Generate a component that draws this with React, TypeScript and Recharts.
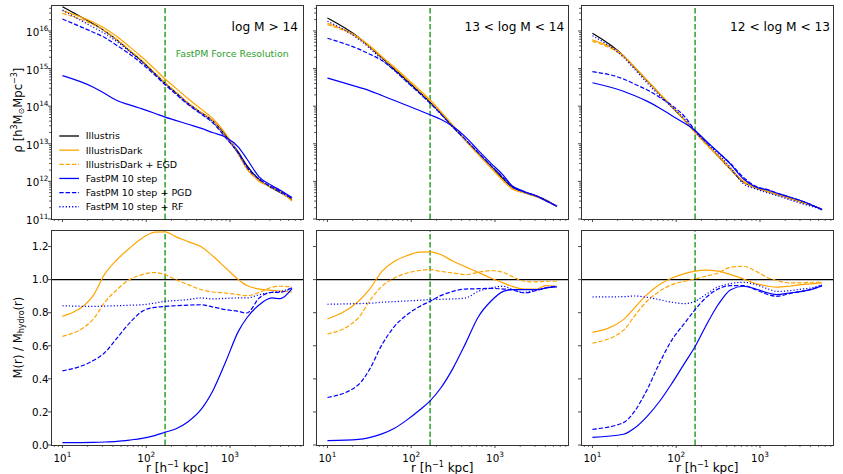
import React from "react";
import { LineChart, Line, XAxis, YAxis, ReferenceLine, Legend } from "recharts";

const FONT = "'DejaVu Sans', sans-serif";
const AXIS = "#333";
const GREEN = "#2ca02c";

// radial bins, h^-1 kpc
const radius = [10, 23.4, 31.6, 44.7, 63.1, 89.1, 126, 168, 224, 316, 447, 631, 891, 1259, 1585, 2239, 3162, 3981, 5500];
const forceResolution = 168;

// density profiles, log M > 14
const rhoIllustris14 = [4.4e16, 1.53e16, 1.02e16, 5.8e15, 3.0e15, 1.57e15, 7.5e14, 4.1e14, 2.35e14, 1.2e14, 6.9e13, 4.0e13, 1.66e13, 6.0e12, 2.66e12, 1.11e12, 6.7e11, 5.1e11, 3.3e11];
const rhoDark14 = [3.47e16, 1.7e16, 1.2e16, 7.1e15, 3.84e15, 2.0e15, 9.8e14, 5.3e14, 3.07e14, 1.57e14, 8.5e13, 4.6e13, 1.84e13, 5.4e12, 2.17e12, 1.0e12, 7.1e11, 5.5e11, 3.0e11];
const rhoEgd14 = [2.94e16, 1.47e16, 1.02e16, 5.9e15, 3.13e15, 1.63e15, 7.8e14, 4.2e14, 2.4e14, 1.22e14, 6.9e13, 4.0e13, 1.57e13, 5.2e12, 2.17e12, 1.06e12, 6.8e11, 5.2e11, 3.1e11];
const rhoFastpm14 = [6.5e14, 3.2e14, 2.2e14, 1.41e14, 1.08e14, 8.5e13, 6.5e13, 5.1e13, 4.2e13, 3.3e13, 2.6e13, 1.96e13, 1.5e13, 8.2e12, 4.0e12, 1.3e12, 7.8e11, 5.8e11, 3.7e11];
const rhoPgd14 = [2.08e16, 9.2e15, 6.8e15, 4.1e15, 2.45e15, 1.33e15, 6.8e14, 3.7e14, 2.12e14, 1.11e14, 6.3e13, 3.5e13, 1.44e13, 5.6e12, 2.4e12, 1.13e12, 7.1e11, 5.4e11, 3.5e11];
const rhoRf14 = [3.6e16, 1.25e16, 8.7e15, 5.2e15, 2.83e15, 1.47e15, 7.2e14, 3.9e14, 2.2e14, 1.15e14, 6.5e13, 3.7e13, 1.5e13, 5.6e12, 2.5e12, 1.18e12, 6.8e11, 5.2e11, 3.5e11];

// 13 < log M < 14
const rhoIllustris13 = [2.21e16, 6.8e15, 3.84e15, 1.92e15, 9.6e14, 4.8e14, 2.35e14, 1.28e14, 6.5e13, 2.77e13, 1.22e13, 5.5e12, 2.55e12, 1.15e12, 7.1e11, 5.2e11, 4.0e11, 3.26e11, 2.17e11];
const rhoDark13 = [1.6e16, 6.8e15, 4.1e15, 2.08e15, 1.08e15, 5.4e14, 2.72e14, 1.47e14, 7.4e13, 3.07e13, 1.22e13, 5.2e12, 2.3e12, 1.02e12, 6.4e11, 4.9e11, 3.84e11, 3.13e11, 2.17e11];
const rhoEgd13 = [1.47e16, 6.4e15, 3.84e15, 2.0e15, 1.02e15, 5.1e14, 2.5e14, 1.36e14, 6.9e13, 2.94e13, 1.22e13, 5.2e12, 2.4e12, 1.06e12, 6.7e11, 5.0e11, 3.9e11, 3.13e11, 2.17e11];
const rhoFastpm13 = [5.6e14, 3.2e14, 2.6e14, 1.92e14, 1.41e14, 1.04e14, 7.7e13, 5.9e13, 4.5e13, 2.88e13, 1.5e13, 6.7e12, 3.07e12, 1.44e12, 7.8e11, 5.4e11, 4.1e11, 3.13e11, 2.17e11];
const rhoPgd13 = [6.4e15, 3.33e15, 2.45e15, 1.63e15, 8.9e14, 4.4e14, 2.2e14, 1.2e14, 6.3e13, 2.77e13, 1.28e13, 5.8e12, 2.66e12, 1.25e12, 7.4e11, 5.2e11, 4.0e11, 3.13e11, 2.17e11];
const rhoRf13 = [1.81e16, 6.1e15, 3.54e15, 1.73e15, 8.9e14, 4.4e14, 2.2e14, 1.2e14, 6.3e13, 2.77e13, 1.28e13, 5.8e12, 2.66e12, 1.25e12, 7.4e11, 5.2e11, 4.0e11, 3.13e11, 2.17e11];

// 12 < log M < 13
const rhoIllustris12 = [8.7e15, 2.21e15, 1.08e15, 4.8e14, 2.12e14, 9.4e13, 4.2e13, 2.04e13, 1.06e13, 4.7e12, 2.08e12, 9.6e11, 6.8e11, 5.3e11, 4.5e11, 3.54e11, 2.77e11, 2.35e11, 1.84e11];
const rhoDark12 = [5.8e15, 2.21e15, 1.13e15, 5.0e14, 2.2e14, 9.8e13, 4.3e13, 2.04e13, 1.04e13, 4.9e12, 2.21e12, 1.02e12, 6.8e11, 5.4e11, 4.6e11, 3.6e11, 2.83e11, 2.4e11, 1.84e11];
const rhoEgd12 = [5.3e15, 2.08e15, 1.08e15, 4.8e14, 2.12e14, 9.4e13, 4.2e13, 1.96e13, 1.0e13, 4.6e12, 2.08e12, 9.6e11, 6.7e11, 5.3e11, 4.5e11, 3.54e11, 2.77e11, 2.35e11, 1.84e11];
const rhoFastpm12 = [4.2e14, 2.5e14, 1.92e14, 1.36e14, 9.0e13, 5.6e13, 3.5e13, 2.26e13, 1.22e13, 6.0e12, 2.83e12, 1.18e12, 7.1e11, 5.8e11, 4.9e11, 3.84e11, 3.0e11, 2.45e11, 1.77e11];
const rhoPgd12 = [8.3e14, 5.3e14, 3.9e14, 2.72e14, 1.73e14, 1.04e14, 5.3e13, 2.26e13, 1.18e13, 6.0e12, 2.94e12, 1.3e12, 7.4e11, 6.0e11, 4.9e11, 3.84e11, 3.0e11, 2.45e11, 1.77e11];
const rhoRf12 = [7.5e15, 2.0e15, 9.8e14, 4.2e14, 1.92e14, 9.4e13, 4.6e13, 2.12e13, 1.11e13, 5.4e12, 2.3e12, 8.7e11, 6.3e11, 4.9e11, 4.2e11, 3.26e11, 2.55e11, 2.21e11, 1.77e11];

// enclosed mass ratio M(r) / M_hydro(r)
const massDark14 = [0.778, 0.905, 1.03, 1.12, 1.19, 1.25, 1.287, 1.289, 1.26, 1.23, 1.2, 1.14, 1.07, 1.0, 0.964, 0.943, 0.935, 0.931, 0.925];
const massEgd14 = [0.657, 0.762, 0.859, 0.939, 1.0, 1.03, 1.043, 1.03, 1.0, 0.97, 0.94, 0.925, 0.919, 0.909, 0.903, 0.923, 0.954, 0.96, 0.956];
const massFastpm14 = [0.014, 0.016, 0.018, 0.022, 0.03, 0.04, 0.057, 0.077, 0.097, 0.141, 0.212, 0.333, 0.505, 0.687, 0.768, 0.848, 0.889, 0.885, 0.945];
const massPgd14 = [0.448, 0.511, 0.556, 0.646, 0.737, 0.808, 0.832, 0.838, 0.842, 0.846, 0.848, 0.834, 0.818, 0.808, 0.798, 0.889, 0.923, 0.923, 0.954];
const massRf14 = [0.842, 0.838, 0.84, 0.842, 0.845, 0.848, 0.858, 0.869, 0.873, 0.879, 0.889, 0.883, 0.887, 0.889, 0.889, 0.909, 0.923, 0.929, 0.949];

const massDark13 = [0.762, 0.869, 0.939, 1.05, 1.111, 1.145, 1.166, 1.168, 1.152, 1.111, 1.077, 1.044, 1.01, 0.98, 0.96, 0.943, 0.943, 0.964, 0.96];
const massEgd13 = [0.671, 0.768, 0.869, 0.96, 1.01, 1.04, 1.055, 1.061, 1.05, 1.04, 1.03, 1.044, 1.055, 1.044, 1.02, 0.99, 0.986, 0.99, 0.99];
const massFastpm13 = [0.026, 0.034, 0.045, 0.067, 0.101, 0.152, 0.212, 0.267, 0.343, 0.465, 0.616, 0.774, 0.869, 0.929, 0.939, 0.939, 0.939, 0.949, 0.956];
const massPgd13 = [0.287, 0.364, 0.455, 0.606, 0.717, 0.788, 0.838, 0.869, 0.903, 0.929, 0.943, 0.945, 0.947, 0.943, 0.939, 0.919, 0.935, 0.949, 0.96];
const massRf13 = [0.851, 0.855, 0.857, 0.863, 0.867, 0.871, 0.875, 0.879, 0.881, 0.883, 0.889, 0.929, 0.949, 0.96, 0.943, 0.923, 0.939, 0.949, 0.96];

const massDark12 = [0.681, 0.758, 0.828, 0.909, 0.97, 1.01, 1.036, 1.051, 1.057, 1.051, 1.03, 1.004, 0.976, 0.96, 0.954, 0.96, 0.97, 0.974, 0.98];
const massEgd12 = [0.616, 0.693, 0.778, 0.869, 0.929, 0.97, 0.99, 1.004, 1.02, 1.04, 1.075, 1.081, 1.051, 1.01, 0.994, 0.98, 0.98, 0.984, 0.984];
const massFastpm12 = [0.046, 0.065, 0.101, 0.172, 0.263, 0.374, 0.495, 0.596, 0.717, 0.848, 0.939, 0.96, 0.943, 0.919, 0.909, 0.919, 0.929, 0.939, 0.964];
const massPgd12 = [0.095, 0.135, 0.202, 0.333, 0.495, 0.636, 0.737, 0.818, 0.889, 0.943, 0.964, 0.964, 0.939, 0.909, 0.899, 0.915, 0.929, 0.939, 0.964];
const massRf12 = [0.895, 0.897, 0.901, 0.893, 0.879, 0.863, 0.855, 0.869, 0.909, 0.956, 0.976, 0.984, 0.97, 0.943, 0.929, 0.933, 0.943, 0.949, 0.97];

const titles = ["log M > 14", "13 < log M < 14", "12 < log M < 13"];

const xTicks = [8, 9, 10, 20, 30, 40, 50, 60, 70, 80, 90, 100, 200, 300, 400, 500, 600, 700, 800, 900, 1000, 2000, 3000, 4000, 5000, 6000, 7000];
const rhoTicks: number[] = [];
for (let e = 11; e <= 16; e++) {
  for (let m = 1; m <= 9; m++) {
    if (m * Math.pow(10, e) <= 4.9e16) rhoTicks.push(m * Math.pow(10, e));
  }
}
const ratioTicks = [0, 0.2, 0.4, 0.6, 0.8, 1.0, 1.2];

const SERIES = [
  { key: "il", name: "Illustris", color: "#000000", dash: undefined as string | undefined },
  { key: "ild", name: "IllustrisDark", color: "#ffa500", dash: undefined },
  { key: "egd", name: "IllustrisDark + EGD", color: "#ffa500", dash: "4.4 1.9" },
  { key: "fp", name: "FastPM 10 step", color: "#0000ff", dash: undefined },
  { key: "pgd", name: "FastPM 10 step + PGD", color: "#0000ff", dash: "4.4 1.9" },
  { key: "rf", name: "FastPM 10 step + RF", color: "#0000ff", dash: "1.2 2" },
];

function buildRows(cols: Record<string, number[]>) {
  return radius.map((r, i) => {
    const row: Record<string, number> = { r };
    Object.keys(cols).forEach((k) => (row[k] = cols[k][i]));
    return row;
  });
}

const densityRows = [
  buildRows({ il: rhoIllustris14, ild: rhoDark14, egd: rhoEgd14, fp: rhoFastpm14, pgd: rhoPgd14, rf: rhoRf14 }),
  buildRows({ il: rhoIllustris13, ild: rhoDark13, egd: rhoEgd13, fp: rhoFastpm13, pgd: rhoPgd13, rf: rhoRf13 }),
  buildRows({ il: rhoIllustris12, ild: rhoDark12, egd: rhoEgd12, fp: rhoFastpm12, pgd: rhoPgd12, rf: rhoRf12 }),
];
const massRows = [
  buildRows({ ild: massDark14, egd: massEgd14, fp: massFastpm14, pgd: massPgd14, rf: massRf14 }),
  buildRows({ ild: massDark13, egd: massEgd13, fp: massFastpm13, pgd: massPgd13, rf: massRf13 }),
  buildRows({ ild: massDark12, egd: massEgd12, fp: massFastpm12, pgd: massPgd12, rf: massRf12 }),
];

// layout
const PW = 252.5;
const ML = 50, MR = 6, MT = 5, MB = 30;
const COLS = [51, 316, 581];
const ROWS = { top: { y: 5, h: 214 }, bottom: { y: 230, h: 215 } };
const TICK_FS = 10.3;

const isPow10 = (v: number) => {
  const e = Math.log10(v);
  return Math.abs(e - Math.round(e)) < 1e-9;
};

function XTick(props: any) {
  const { x, y, payload, showLabel } = props;
  const v = payload.value;
  const major = isPow10(v);
  const len = major ? 3 : 1.8;
  return (
    <g>
      <line x1={x} x2={x} y1={y} y2={y + len} stroke={AXIS} strokeWidth={0.9} />
      {showLabel && major && (
        <text x={x} y={y + 17} textAnchor="middle" fontSize={TICK_FS} fontFamily={FONT} fill="#000">
          10<tspan dy={-5} fontSize={7.3}>{Math.round(Math.log10(v))}</tspan>
        </text>
      )}
    </g>
  );
}

function LogYTick(props: any) {
  const { x, y, payload, showLabel } = props;
  const v = payload.value;
  const major = isPow10(v);
  const len = major ? 3 : 1.8;
  return (
    <g>
      <line x1={x - len} x2={x} y1={y} y2={y} stroke={AXIS} strokeWidth={0.9} />
      {showLabel && major && (
        <text x={x - 2.5} y={y + 5} textAnchor="end" fontSize={TICK_FS} fontFamily={FONT} fill="#000">
          10<tspan dy={-5} fontSize={7.3}>{Math.round(Math.log10(v))}</tspan>
        </text>
      )}
    </g>
  );
}

function LinYTick(props: any) {
  const { x, y, payload, showLabel } = props;
  return (
    <g>
      <line x1={x - 3} x2={x} y1={y} y2={y} stroke={AXIS} strokeWidth={0.9} />
      {showLabel && (
        <text x={x - 2.5} y={y + 3.8} textAnchor="end" fontSize={TICK_FS} fontFamily={FONT} fill="#000">
          {payload.value.toFixed(1)}
        </text>
      )}
    </g>
  );
}

const LegendBox = () => (
  <svg width={200} height={92} style={{ overflow: "visible" }}>
    {SERIES.map((s, i) => {
      const cy = 8 + i * 14.15;
      return (
        <g key={s.key}>
          <line x1={3.3} x2={23} y1={cy} y2={cy} stroke={s.color} strokeWidth={1.3} strokeDasharray={s.dash} />
          <text x={29.7} y={cy + 3.4} fontSize={9.5} fontFamily={FONT} fill="#000">
            {s.name}
          </text>
        </g>
      );
    })}
  </svg>
);

function Panel({ col, row }: { col: number; row: "top" | "bottom" }) {
  const isTop = row === "top";
  const r = ROWS[row];
  const data = isTop ? densityRows[col] : massRows[col];
  const series = isTop ? SERIES : SERIES.filter((s) => s.key !== "il");
  const yLabels = col === 0;
  return (
    <div style={{ position: "absolute", left: COLS[col] - ML, top: r.y - MT }}>
      <LineChart
        width={ML + PW + MR}
        height={MT + r.h + MB}
        data={data}
        margin={{ top: MT, right: MR, left: 0, bottom: 0 }}
      >
        <XAxis
          dataKey="r"
          type="number"
          scale="log"
          domain={[7.3, 7540]}
          allowDataOverflow
          ticks={xTicks}
          interval={0}
          height={MB}
          tickLine={false}
          axisLine={false}
          tickSize={0}
          tickMargin={0}
          tick={(p: any) => <XTick {...p} showLabel={!isTop} />}
        />
        <YAxis
          type="number"
          scale={isTop ? "log" : "linear"}
          domain={isTop ? [1e11, 4.9e16] : [0, 1.3]}
          allowDataOverflow
          ticks={isTop ? rhoTicks : ratioTicks}
          interval={0}
          width={ML}
          tickLine={false}
          axisLine={false}
          tickSize={0}
          tickMargin={0}
          tick={(p: any) =>
            isTop ? <LogYTick {...p} showLabel={yLabels} /> : <LinYTick {...p} showLabel={yLabels} />
          }
        />
        {!isTop && <ReferenceLine y={1} stroke="#000" strokeWidth={1.3} />}
        <ReferenceLine x={forceResolution} stroke={GREEN} strokeWidth={1.5} strokeDasharray="5.5 2.4" />
        {series.map((s) => (
          <Line
            key={s.key}
            dataKey={s.key}
            name={s.name}
            type="monotone"
            stroke={s.color}
            strokeWidth={1.2}
            strokeDasharray={s.dash}
            dot={false}
            activeDot={false}
            isAnimationActive={false}
          />
        ))}
        {isTop && col === 0 && (
          <Legend
            layout="vertical"
            align="center"
            verticalAlign="middle"
            wrapperStyle={{ left: 55, top: 128, width: 200, height: 92 }}
            content={() => <LegendBox />}
          />
        )}
      </LineChart>
      <div
        style={{
          position: "absolute",
          left: ML - 0.5,
          top: MT - 0.5,
          width: PW + 1,
          height: r.h + 1,
          boxSizing: "border-box",
          border: `1px solid ${AXIS}`,
          pointerEvents: "none",
        }}
      />
    </div>
  );
}

export default function App() {
  return (
    <div style={{ position: "fixed", left: 0, top: 0, width: 843, height: 474, background: "#fff", overflow: "hidden" }}>
      {[0, 1, 2].map((c) => (
        <React.Fragment key={c}>
          <Panel col={c} row="top" />
          <Panel col={c} row="bottom" />
        </React.Fragment>
      ))}
      <svg width={843} height={474} style={{ position: "absolute", left: 0, top: 0, pointerEvents: "none" }}>
        <g fontFamily={FONT} fill="#000">
          <text x={298} y={30.5} textAnchor="end" fontSize={12.2}>{titles[0]}</text>
          <text x={564.3} y={30.5} textAnchor="end" fontSize={12.2}>{titles[1]}</text>
          <text x={830} y={30.5} textAnchor="end" fontSize={12.2}>{titles[2]}</text>
          <text x={175.7} y={56.5} fontSize={9.4} fill={GREEN}>FastPM Force Resolution</text>
          <text transform="translate(21.5,110) rotate(-90)" textAnchor="middle" fontSize={11.6}>
            ρ [h<tspan dy={-4.5} fontSize={8}>3</tspan>
            <tspan dy={4.5}>M</tspan>
            <tspan dy={2.5} fontSize={8}>⊙</tspan>
            <tspan dy={-2.5}>Mpc</tspan>
            <tspan dy={-4.5} fontSize={8}>−3</tspan>
            <tspan dy={4.5}>]</tspan>
          </text>
          <text transform="translate(21.5,337.5) rotate(-90)" textAnchor="middle" fontSize={11.6}>
            M(r) / M<tspan dy={2.5} fontSize={8}>hydro</tspan>
            <tspan dy={-2.5}>(r)</tspan>
          </text>
          {COLS.map((x) => (
            <text key={x} x={x + PW / 2} y={471.5} textAnchor="middle" fontSize={12}>
              r [h<tspan dy={-4.5} fontSize={8}>−1</tspan>
              <tspan dy={4.5}> kpc]</tspan>
            </text>
          ))}
        </g>
      </svg>
    </div>
  );
}
